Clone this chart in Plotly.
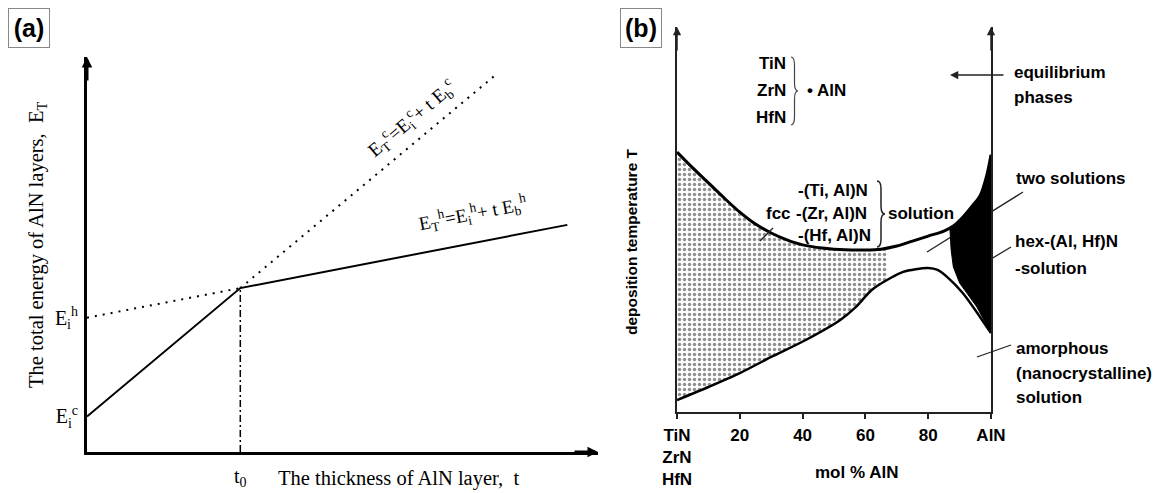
import plotly.graph_objects as go

W, H = 1170, 493

# ---------------- Panel (a): schematic total energy vs AlN thickness ----------------
t_solid = [0.0, 3.0, 9.4]          # cubic growth up to t0, then hexagonal
E_solid = [0.9, 4.15, 5.75]
t_hex_ext = [0.0, 3.0]             # dotted back-extension of hexagonal line
E_hex_ext = [3.4, 4.15]
t_cub_ext = [3.0, 8.0]             # dotted continuation of cubic line
E_cub_ext = [4.15, 9.55]
t0 = 3.0
E_t0 = 4.15
E_i_c = 0.9
E_i_h = 3.4

# ---------------- Panel (b): deposition temperature vs mol % AlN ----------------
upper_x = [0, 5, 10, 15, 20, 25, 30, 35, 40, 50, 60, 65, 70, 75, 80, 85, 88, 91, 94, 96.5, 98.7, 100]
upper_T = [67.5, 63.4, 59.5, 55.6, 51.9, 48.8, 46.5, 44.7, 43.4, 42.3, 42.1, 42.3, 43.1, 44.4,
           45.7, 47.0, 48.3, 50.6, 53.5, 56.1, 61.6, 66.8]
lower_x = [0, 10, 20, 30, 41, 52, 57, 62, 68, 72, 76, 80, 83, 86, 91, 96.5, 100]
lower_T = [3.1, 6.5, 10.1, 14.3, 18.7, 23.9, 27.3, 31.7, 34.8, 36.4, 37.1, 37.4, 36.9, 35.1, 30.9, 24.7, 20.5]

# fcc solid-solution (dotted) region boundary
fcc_x = [0, 5, 10, 15, 20, 25, 30, 35, 40, 50, 60, 65, 67, 67, 62, 57, 52, 41, 30, 20, 10, 0]
fcc_T = [67.5, 63.4, 59.5, 55.6, 51.9, 48.8, 46.5, 44.7, 43.4, 42.3, 42.1, 42.3, 42.6, 34.3,
         31.7, 27.3, 23.9, 18.7, 14.3, 10.1, 6.5, 3.1]
# two-solution (black) region boundary
two_x = [86.9, 88, 91, 94, 96.5, 98.7, 100, 100, 98, 95.5, 93, 90, 88, 87.3, 86.9]
two_T = [47.9, 48.3, 50.6, 53.5, 56.1, 61.6, 66.8, 20.5, 23.6, 27.3, 30.1, 33.5, 37.7, 42.1, 47.9]

tick_vals_b = [0, 20, 40, 60, 80, 100]
tick_text_b = ["TiN<br>ZrN<br>HfN", "20", "40", "60", "80", "AlN"]

SERIF = "Liberation Serif, Times New Roman, serif"
SANS = "Liberation Sans, Arial, sans-serif"


def PX(x):
    return x / W


def PY(y):
    return 1 - y / H


fig = go.Figure()

# ---- panel (a) traces
fig.add_trace(go.Scatter(x=t_hex_ext, y=E_hex_ext, mode="lines", xaxis="x", yaxis="y",
                         line=dict(color="black", width=2, dash="2px,6px")))
fig.add_trace(go.Scatter(x=t_cub_ext, y=E_cub_ext, mode="lines", xaxis="x", yaxis="y",
                         line=dict(color="black", width=2, dash="2px,6px")))
fig.add_trace(go.Scatter(x=[t0, t0], y=[0, E_t0], mode="lines", xaxis="x", yaxis="y",
                         line=dict(color="black", width=1.5, dash="7px,3px,2px,3px")))
fig.add_trace(go.Scatter(x=t_solid, y=E_solid, mode="lines", xaxis="x", yaxis="y",
                         line=dict(color="black", width=2)))

# ---- panel (b) traces
fig.add_trace(go.Scatter(x=fcc_x, y=fcc_T, mode="lines", fill="toself", xaxis="x2", yaxis="y2",
                         line=dict(width=0, color="rgba(0,0,0,0)"), fillcolor="white",
                         fillpattern=dict(shape=".", size=5, solidity=0.38, fgcolor="#222", bgcolor="white")))
fig.add_trace(go.Scatter(x=two_x, y=two_T, mode="lines", fill="toself", xaxis="x2", yaxis="y2",
                         line=dict(width=1, color="black"), fillcolor="black"))
fig.add_trace(go.Scatter(x=upper_x, y=upper_T, mode="lines", xaxis="x2", yaxis="y2",
                         line=dict(color="black", width=3, shape="spline", smoothing=0.8)))
fig.add_trace(go.Scatter(x=lower_x, y=lower_T, mode="lines", xaxis="x2", yaxis="y2",
                         line=dict(color="black", width=2.5, shape="spline", smoothing=0.8)))
fig.add_trace(go.Scatter(x=[100], y=[0], mode="markers", xaxis="x2", yaxis="y3",
                         marker=dict(size=1, color="rgba(0,0,0,0)"), hoverinfo="skip"))

axis_common = dict(showgrid=False, zeroline=False, automargin=False)
fig.update_layout(
    width=W, height=H, margin=dict(l=0, r=0, t=0, b=0, autoexpand=False),
    paper_bgcolor="white", plot_bgcolor="rgba(0,0,0,0)", showlegend=False,
    xaxis=dict(domain=[PX(87), PX(598)], range=[0, 10], anchor="y", showline=True, linewidth=3,
               linecolor="black", tickvals=[t0], ticktext=["t<sub>0</sub>"], ticks="",
               ticklabelstandoff=4, tickfont=dict(family=SERIF, size=20, color="black"), **axis_common),
    yaxis=dict(domain=[PY(452), PY(57)], range=[0, 10], anchor="x", showline=True, linewidth=3,
               linecolor="black", tickvals=[E_i_c, E_i_h],
               ticktext=["E<sub>i</sub><sup>c</sup>", "E<sub>i</sub><sup>h</sup>"], ticks="",
               ticklabelstandoff=2, tickfont=dict(family=SERIF, size=20, color="black"), **axis_common),
    xaxis2=dict(domain=[PX(677), PX(991)], range=[0, 100], anchor="y2", showline=True, linewidth=1.5,
                linecolor="#222", tickvals=tick_vals_b, ticktext=tick_text_b, ticks="outside",
                ticklen=5, tickwidth=1.5, tickcolor="#222", ticklabelstandoff=2,
                tickfont=dict(family=SANS, size=17, color="black", weight="bold"), **axis_common),
    yaxis2=dict(domain=[PY(412), PY(27)], range=[0, 100], anchor="x2", showline=True, linewidth=1.5,
                linecolor="#222", showticklabels=False, ticks="", **axis_common),
    yaxis3=dict(range=[0, 100], overlaying="y2", side="right", anchor="x2", showline=True,
                linewidth=1.5, linecolor="#222", showticklabels=False, ticks="", **axis_common),
)

ann = []
# axis arrowheads
ann.append(dict(x=0, y=10, xref="x", yref="y", ax=0, ay=25, showarrow=True, arrowhead=2,
                arrowsize=0.7, arrowwidth=3, arrowcolor="black", text=""))
ann.append(dict(x=10, y=0, xref="x", yref="y", ax=-25, ay=0, showarrow=True, arrowhead=2,
                arrowsize=0.7, arrowwidth=3, arrowcolor="black", text=""))
ann.append(dict(x=0, y=100, xref="x2", yref="y2", ax=0, ay=25, showarrow=True, arrowhead=2,
                arrowsize=1.1, arrowwidth=1.5, arrowcolor="#222", text=""))
ann.append(dict(x=100, y=100, xref="x2", yref="y2", ax=0, ay=25, showarrow=True, arrowhead=2,
                arrowsize=1.1, arrowwidth=1.5, arrowcolor="#222", text=""))
# equilibrium phases arrow
ann.append(dict(x=PX(950), y=PY(75), xref="paper", yref="paper", ax=55, ay=0, showarrow=True,
                arrowhead=2, arrowsize=1.1, arrowwidth=1.5, arrowcolor="#222", text=""))

# panel labels
for lab, cx in (("(a)", 29), ("(b)", 641)):
    ann.append(dict(x=PX(cx), y=PY(28), xref="paper", yref="paper", text=lab, showarrow=False,
                    width=40, height=38, borderpad=0, bordercolor="#888", borderwidth=1,
                    bgcolor="white", xanchor="center", yanchor="middle",
                    font=dict(family=SANS, size=25, color="black", weight="bold")))

# panel (a) texts
ann.append(dict(x=PX(37), y=PY(245), xref="paper", yref="paper", textangle=-90, showarrow=False,
                xanchor="center", yanchor="middle",
                text="The total energy of AlN layers,  E<sub>T</sub>",
                font=dict(family=SERIF, size=20.5, color="black")))
ann.append(dict(x=PX(276), y=PY(478), xref="paper", yref="paper", xanchor="left", yanchor="middle",
                showarrow=False, text="The thickness of AlN layer,  t",
                font=dict(family=SERIF, size=20.5, color="black")))
ann.append(dict(x=6.35, y=8.45, xref="x", yref="y", textangle=-40, showarrow=False,
                xanchor="center", yanchor="middle",
                text="E<sub>T</sub><sup>c</sup>=E<sub>i</sub><sup>c</sup>+ t E<sub>b</sub><sup>c</sup>",
                font=dict(family=SERIF, size=19, color="black")))
ann.append(dict(x=7.55, y=6.05, xref="x", yref="y", textangle=-11, showarrow=False,
                xanchor="center", yanchor="middle",
                text="E<sub>T</sub><sup>h</sup>=E<sub>i</sub><sup>h</sup>+ t E<sub>b</sub><sup>h</sup>",
                font=dict(family=SERIF, size=19, color="black")))

# panel (b) texts
texts_b = [
    ("TiN", 788, 63, "right"), ("ZrN", 788, 90, "right"), ("HfN", 788, 117, "right"),
    ("• AlN", 805, 90, "left"),
    ("equilibrium", 1012, 72, "left"), ("phases", 1012, 97, "left"),
    ("two solutions", 1014, 178, "left"),
    ("hex-(Al, Hf)N", 1013, 241, "left"), ("-solution", 1013, 268, "left"),
    ("amorphous", 1014, 348, "left"), ("(nanocrystalline)", 1014, 373, "left"),
    ("solution", 1014, 397, "left"),
    ("-(Ti, Al)N", 796, 190, "left"), ("fcc", 764, 213, "left"), ("-(Zr, Al)N", 794, 213, "left"),
    ("-(Hf, Al)N", 796, 236, "left"), ("solution", 886, 213, "left"),
    ("mol % AlN", 857, 472, "center"),
]
for s, x, y, xa in texts_b:
    ann.append(dict(x=PX(x), y=PY(y), xref="paper", yref="paper", text=s, showarrow=False,
                    xanchor=xa, yanchor="middle",
                    font=dict(family=SANS, size=17, color="black", weight="bold")))
ann.append(dict(x=PX(631), y=PY(242), xref="paper", yref="paper", textangle=-90, showarrow=False,
                xanchor="center", yanchor="middle", text="deposition temperature T",
                font=dict(family=SANS, size=15.5, color="black", weight="bold")))
fig.update_layout(annotations=ann)


def brace(x0, yt, yb, w):
    xm, xt, ym, h = x0 + w / 2, x0 + w, (yt + yb) / 2, yb - yt
    pts = [("M", [(x0, yt)]), ("Q", [(xm, yt), (xm, yt + 0.12 * h)]), ("L", [(xm, ym - 0.12 * h)]),
           ("Q", [(xm, ym), (xt, ym)]), ("Q", [(xm, ym), (xm, ym + 0.12 * h)]),
           ("L", [(xm, yb - 0.12 * h)]), ("Q", [(xm, yb), (x0, yb)])]
    out = []
    for cmd, ps in pts:
        out.append(cmd + " ".join(f"{PX(a):.5f},{PY(b):.5f}" for a, b in ps))
    return " ".join(out)


shapes = [
    dict(type="path", path=brace(791, 57, 125, 7), xref="paper", yref="paper",
         line=dict(color="#444", width=1.2)),
    dict(type="path", path=brace(877, 181, 247, 8), xref="paper", yref="paper",
         line=dict(color="#222", width=1.5)),
]
for (x0, y0, x1, y1, lay) in [(1023, 192, 927, 252, "below"), (1011, 247, 991, 259, "above"),
                              (1011, 345, 977, 357, "above"), (773, 228, 760, 241, "above")]:
    shapes.append(dict(type="line", x0=PX(x0), y0=PY(y0), x1=PX(x1), y1=PY(y1), xref="paper",
                       yref="paper", layer=lay, line=dict(color="#222", width=1.3)))
fig.update_layout(shapes=shapes)

fig.write_html("out.html")
